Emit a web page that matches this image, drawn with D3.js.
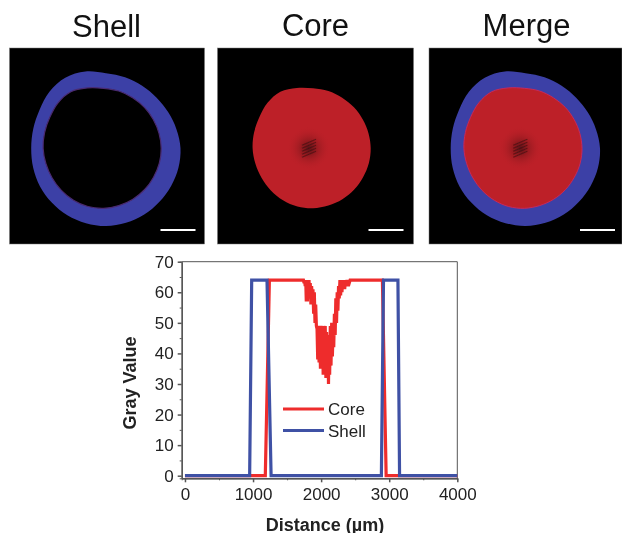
<!DOCTYPE html>
<html>
<head>
<meta charset="utf-8">
<script src="https://cdn.jsdelivr.net/npm/d3@7"></script>
<style>
  body { margin: 0; background: #fff; }
  svg { display: block; filter: blur(0.35px); }
  text { font-family: "Liberation Sans", Arial, sans-serif; fill: #222; }
</style>
</head>
<body>
<script>
// panel titles
var panelNames = ["Shell", "Core", "Merge"];

// outlines, radius every 15 degrees, clockwise from the top
var shellOuter = [75, 73.5, 72.3, 71.6, 71.9, 73, 74.5, 75, 75.2, 75.6, 76.5, 77.2, 77.7, 77.5, 77.3, 76.7, 76.2, 75.4, 74.8, 75.3, 76.8, 80, 81.5, 79.5];
var coreOuter = [60, 59.3, 58.3, 57.9, 57.5, 57.5, 57.7, 57.8, 57.8, 58.3, 58.8, 59.3, 60, 60.3, 60, 59.6, 59.3, 59.6, 60.4, 61, 62, 64.3, 65.3, 62.5];

// profile lines
var shellDist = [0, 950, 980, 1205, 1265, 2885, 2916, 3128, 3152, 4000];
var shellGray = [0, 0, 64, 64, 0, 0, 64, 64, 0, 0];

var coreDist = [0, 1180, 1240, 1740, 1750, 1758, 1766, 1774, 1782, 1790, 1798, 1806, 1814, 1822, 1830, 1840, 1850, 1860, 1870, 1880, 1890, 1900, 1910,
  1920, 1930, 1940, 1950, 1960, 1970, 1980, 1990, 2000, 2010, 2020, 2030, 2040, 2050, 2060, 2070, 2080, 2090, 2100, 2108, 2116,
  2125, 2135, 2145, 2155, 2165, 2175, 2185, 2195, 2206, 2216, 2226, 2236, 2246, 2256, 2266, 2276, 2286, 2296, 2306, 2316, 2326, 2336, 2346, 2356, 2366, 2380, 2400, 2426, 2900, 2955, 4000];
var coreGray = [0, 0, 64, 64, 63, 64, 62, 64, 57, 64, 57, 63, 58, 64, 59, 63, 56, 62, 58, 61, 53, 60, 50,
  56, 49, 48, 38, 49, 37, 48, 35, 49, 38, 49, 33, 48, 36, 49, 32, 47, 34, 46, 30, 45,
  33, 49, 36, 50, 39, 47, 42, 53, 46, 58, 50, 60, 54, 62, 58, 64, 59, 64, 60, 64, 61, 64, 61, 64, 62, 64, 62, 64, 64, 0, 0];

var xMajor = [0, 1000, 2000, 3000, 4000];
var xMinor = [500, 1500, 2500, 3500];
var yMajor = [0, 10, 20, 30, 40, 50, 60, 70];
var yMinor = [5, 15, 25, 35, 45, 55, 65];

var legendNames = ["Core", "Shell"];

var blue = "#3c40a6";
var red = "#bd2028";
var lineRed = "#ee2c2c";
var lineBlue = "#3f51a5";

var width = 622, height = 533;
var svg = d3.select("body").append("svg").attr("width", width).attr("height", height);

var defs = svg.append("defs");
var smudge = defs.append("radialGradient").attr("id", "smudge");
smudge.append("stop").attr("offset", "0%").attr("stop-color", "#4a1216").attr("stop-opacity", 0.85);
smudge.append("stop").attr("offset", "35%").attr("stop-color", "#701518").attr("stop-opacity", 0.5);
smudge.append("stop").attr("offset", "100%").attr("stop-color", red).attr("stop-opacity", 0);
defs.append("filter").attr("id", "soft").append("feGaussianBlur").attr("stdDeviation", 0.6);

// ---------- images ----------
var panelX = d3.scaleOrdinal().domain(panelNames).range([9.5, 217.5, 429]);
var panelW = d3.scaleOrdinal().domain(panelNames).range([195, 196, 193]);
var titleX = d3.scaleOrdinal().domain(panelNames).range([106.5, 315.5, 526.5]);
// the core does not sit quite in the middle of the shell, and differs a bit per panel
var coreShift = d3.scaleOrdinal().domain(panelNames).range([-2.5, -1, -1.2]);
var panelH = 196, panelY = 48;
var cx = 96.5, cy = 100.3;

var angle = d3.scaleLinear().domain([0, shellOuter.length]).range([0, 2 * Math.PI]);
var radius = d3.scaleLinear().domain([0, 100]).range([0, 100]);
var outline = d3.lineRadial()
  .angle(function(d, i) { return angle(i); })
  .radius(function(d) { return radius(d); })
  .curve(d3.curveCatmullRomClosed);

function izrisiSredino(g) {
  var c = g.append("g").attr("transform", "translate(-4,0)");
  c.append("ellipse").attr("rx", 22).attr("ry", 22).attr("fill", "url(#smudge)");
  // dark streaks in the middle of the core
  c.selectAll("line").data([-6, -3, 0, 3, 6]).enter().append("line")
    .attr("x1", -7).attr("x2", 7)
    .attr("y1", function(d) { return d + 3; })
    .attr("y2", function(d) { return d - 3; })
    .attr("stroke", "#3a0d10").attr("stroke-width", 1.2).attr("opacity", 0.6)
    .attr("filter", "url(#soft)");
}

panelNames.forEach(function(name) {
  svg.append("text").attr("x", titleX(name)).attr("y", name == "Shell" ? 37 : 36)
    .attr("text-anchor", "middle").attr("font-size", 31).style("fill", "#111").text(name);

  var p = svg.append("g").attr("transform", "translate(" + panelX(name) + "," + panelY + ")");
  p.append("rect").attr("width", panelW(name)).attr("height", panelH).attr("fill", "#000")
    .attr("stroke", "#777").attr("stroke-width", 0.5);

  var g = p.append("g").attr("transform", "translate(" + cx + "," + cy + ")");
  if (name != "Core") {
    g.append("path").attr("d", outline(shellOuter)).attr("fill", blue);
  }
  var inner = g.append("g").attr("transform", "translate(" + coreShift(name) + ",0)");
  if (name == "Shell") {
    inner.append("path").attr("d", outline(coreOuter)).attr("fill", "#000")
      .attr("stroke", "#4a2a70").attr("stroke-width", 1.2);
  } else {
    inner.append("path").attr("d", outline(coreOuter)).attr("fill", red)
      .attr("stroke", name == "Merge" ? "#c8285a" : "none").attr("stroke-width", 1);
    izrisiSredino(inner);
  }
  // scale bar
  p.append("rect").attr("x", 151).attr("y", 181).attr("width", 35).attr("height", 2).attr("fill", "#fff");
});

// ---------- profile plot ----------
var x = d3.scaleLinear().domain([-48, 4000]).range([181.7, 457.3]);
var y = d3.scaleLinear().domain([-0.85, 70]).range([478.3, 261.7]);

var frame = svg.append("g").attr("stroke", "#555").attr("stroke-width", 1).attr("fill", "none");
frame.append("line").attr("x1", x.range()[0]).attr("x2", x.range()[1]).attr("y1", y.range()[1]).attr("y2", y.range()[1]);
frame.append("line").attr("x1", x.range()[1]).attr("x2", x.range()[1]).attr("y1", y.range()[0]).attr("y2", y.range()[1]);

var xAxisMinor = d3.axisBottom(x).tickValues(xMinor).tickSize(2).tickFormat("");
var xAxisMajor = d3.axisBottom(x).tickValues(xMajor).tickSize(4).tickSizeOuter(0).tickPadding(6).tickFormat(d3.format("d"));
var yAxisMinor = d3.axisLeft(y).tickValues(yMinor).tickSize(2).tickFormat("");
var yAxisMajor = d3.axisLeft(y).tickValues(yMajor).tickSize(4).tickSizeOuter(0).tickPadding(4);

[[xAxisMinor, 0], [xAxisMajor, 1]].forEach(function(a) {
  var g = svg.append("g").attr("transform", "translate(0," + y.range()[0] + ")").call(a[0]);
  g.selectAll("text").attr("font-size", 17);
  g.selectAll("line,path").attr("stroke", "#555").attr("stroke-width", a[1] ? 1.5 : 1);
});
[[yAxisMinor, 0], [yAxisMajor, 1]].forEach(function(a) {
  var g = svg.append("g").attr("transform", "translate(" + x.range()[0] + ",0)").call(a[0]);
  g.selectAll("text").attr("font-size", 17);
  g.selectAll("line,path").attr("stroke", "#555").attr("stroke-width", a[1] ? 1.5 : 1);
});

var line = d3.line()
  .x(function(d) { return x(d[0]); })
  .y(function(d) { return y(d[1]); });

svg.append("path").attr("d", line(d3.zip(coreDist, coreGray)))
  .attr("fill", "none").attr("stroke", lineRed).attr("stroke-width", 3.2);
svg.append("path").attr("d", line(d3.zip(shellDist, shellGray)))
  .attr("fill", "none").attr("stroke", lineBlue).attr("stroke-width", 3.2);

// legend
var legendY = d3.scalePoint().domain(legendNames).range([409, 430.5]);
var legendColor = d3.scaleOrdinal().domain(legendNames).range([lineRed, lineBlue]);
legendNames.forEach(function(n) {
  svg.append("line").attr("x1", 283).attr("x2", 324).attr("y1", legendY(n)).attr("y2", legendY(n))
    .attr("stroke", legendColor(n)).attr("stroke-width", 3.2);
  svg.append("text").attr("x", 328).attr("y", legendY(n) + 6).attr("font-size", 17).text(n);
});

// axis titles
svg.append("text").attr("x", 325).attr("y", 530.5).attr("text-anchor", "middle")
  .attr("font-size", 18).attr("font-weight", "bold").text("Distance (\u00b5m)");
svg.append("text").attr("transform", "translate(135.5,383) rotate(-90)").attr("text-anchor", "middle")
  .attr("font-size", 18).attr("font-weight", "bold").text("Gray Value");
</script>
</body>
</html>
